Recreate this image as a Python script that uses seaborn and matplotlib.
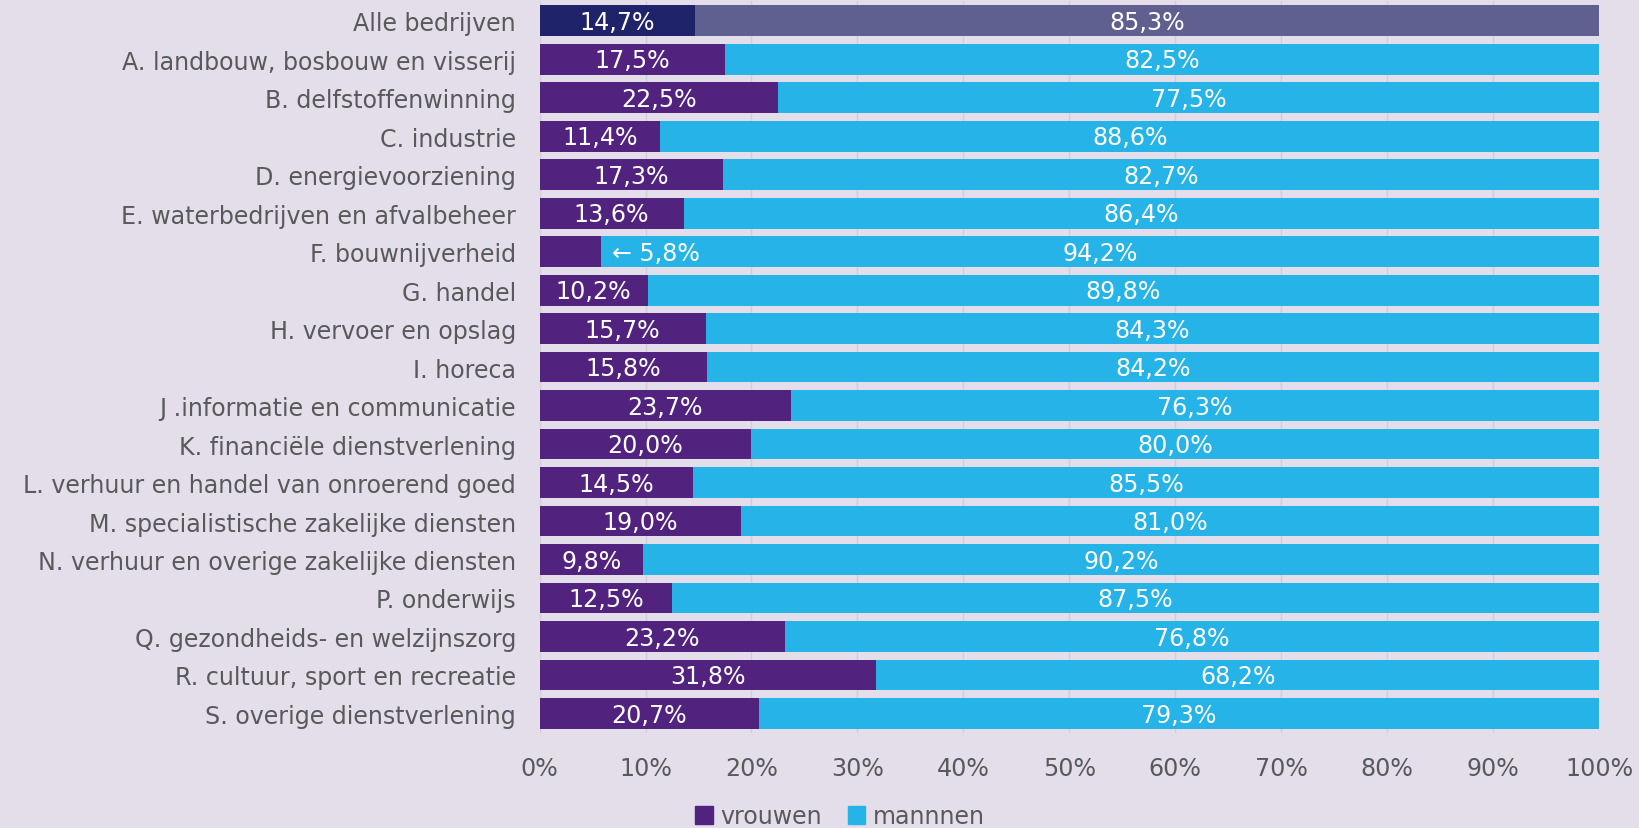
import matplotlib
matplotlib.use("Agg")
import matplotlib.pyplot as plt
from matplotlib.patches import Patch
import seaborn as sns
import pandas as pd

# --- data ---
sectoren = [
    "Alle bedrijven",
    "A. landbouw, bosbouw en visserij",
    "B. delfstoffenwinning",
    "C. industrie",
    "D. energievoorziening",
    "E. waterbedrijven en afvalbeheer",
    "F. bouwnijverheid",
    "G. handel",
    "H. vervoer en opslag",
    "I. horeca",
    "J .informatie en communicatie",
    "K. financiële dienstverlening",
    "L. verhuur en handel van onroerend goed",
    "M. specialistische zakelijke diensten",
    "N. verhuur en overige zakelijke diensten",
    "P. onderwijs",
    "Q. gezondheids- en welzijnszorg",
    "R. cultuur, sport en recreatie",
    "S. overige dienstverlening",
]
vrouwen = [14.7, 17.5, 22.5, 11.4, 17.3, 13.6, 5.8, 10.2, 15.7, 15.8,
           23.7, 20.0, 14.5, 19.0, 9.8, 12.5, 23.2, 31.8, 20.7]
mannen = [85.3, 82.5, 77.5, 88.6, 82.7, 86.4, 94.2, 89.8, 84.3, 84.2,
          76.3, 80.0, 85.5, 81.0, 90.2, 87.5, 76.8, 68.2, 79.3]

BG = "#E3DEEA"
C_VROUW = "#51237F"
C_MAN = "#25B3E8"
C_ALLE_V = "#1F2369"
C_ALLE_M = "#5F5F90"
GREY = "#595959"
FS = 17.1

df = pd.DataFrame({"sector": sectoren, "vrouwen": vrouwen, "mannen": mannen})
df["totaal"] = df["vrouwen"] + df["mannen"]

sns.set_style("white")
plt.rcParams["font.family"] = ["DejaVu Sans"]

fig = plt.figure(figsize=(16.4, 8.29), dpi=100, facecolor=BG)
ax = fig.add_axes([0.329, 0.115, 0.646, 0.882], facecolor=BG)

man_cols = [C_ALLE_M] + [C_MAN] * (len(df) - 1)
vrouw_cols = [C_ALLE_V] + [C_VROUW] * (len(df) - 1)

sns.barplot(data=df, x="totaal", y="sector", hue="sector", palette=man_cols,
            saturation=1, legend=False, orient="h", width=0.8, ax=ax, zorder=2)
sns.barplot(data=df, x="vrouwen", y="sector", hue="sector", palette=vrouw_cols,
            saturation=1, legend=False, orient="h", width=0.8, ax=ax, zorder=3)
for p in ax.patches:
    p.set_linewidth(0)

# labels
for i, (v, m) in enumerate(zip(vrouwen, mannen)):
    vtxt = f"{v:.1f}%".replace(".", ",")
    mtxt = f"{m:.1f}%".replace(".", ",")
    if v < 8:
        ax.text(v + 1.0, i + 0.03, "\u2190 " + vtxt, color="white", fontsize=FS,
                ha="left", va="center", zorder=5)
    else:
        ax.text(v / 2, i + 0.03, vtxt, color="white", fontsize=FS,
                ha="center", va="center", zorder=5)
    ax.text(v + m / 2, i + 0.03, mtxt, color="white", fontsize=FS,
            ha="center", va="center", zorder=5)

ax.set_xlim(0, 100)
ax.set_ylim(len(df) - 0.5, -0.5)
ax.set_xticks(range(0, 101, 10))
ax.set_xticklabels([f"{t}%" for t in range(0, 101, 10)])
ax.tick_params(axis="both", length=0, labelsize=FS, labelcolor=GREY)
ax.tick_params(axis="x", pad=17)
ax.tick_params(axis="y", pad=17)
ax.set_xlabel("")
ax.set_ylabel("")
ax.xaxis.grid(True, color="#D3CDDB", linewidth=1, zorder=0)
ax.set_axisbelow(True)
sns.despine(ax=ax, left=True, bottom=True)

handles = [Patch(color=C_VROUW, label="vrouwen"), Patch(color=C_MAN, label="mannnen")]
fig.legend(handles=handles, loc="lower center", bbox_to_anchor=(0.512, -0.026),
           ncol=2, frameon=False, fontsize=FS, labelcolor=GREY,
           handlelength=0.75, handleheight=0.75, handletextpad=0.3, columnspacing=1.1)

fig.savefig("out.png", dpi=100, facecolor=BG)
